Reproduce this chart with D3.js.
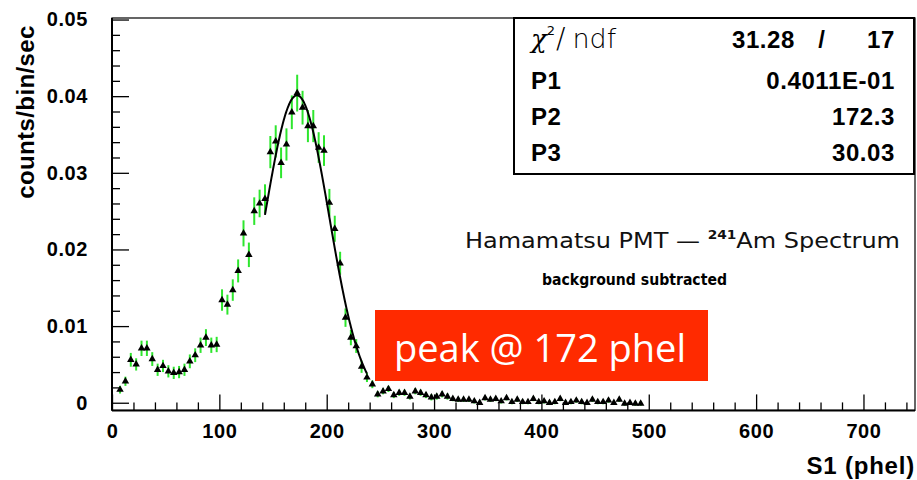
<!DOCTYPE html>
<html><head><meta charset="utf-8">
<script src="https://cdn.jsdelivr.net/npm/d3@7"></script>
<style>body{margin:0;background:#fff;} svg{display:block;}</style>
</head><body><svg id="c" width="917" height="480"></svg>
<script>
// ---- data ----
const s1Bins = [7.5,12.5,17.5,22.5,27.5,32.5,37.5,42.5,47.5,52.5,57.5,62.5,67.5,72.5,77.5,82.5,87.5,92.5,97.5,102.5,
  107.5,112.5,117.5,122.5,127.5,132.5,137.5,142.5,147.5,152.5,157.5,162.5,167.5,172.5,177.5,182.5,187.5,192.5,197.5,202.5,
  207.5,212.5,217.5,222.5,227.5,232.5,237.5,242.5,247.5,252.5,257.5,262.5,267.5,272.5,277.5,282.5,287.5,292.5,297.5,302.5,
  307.5,312.5,317.5,322.5,327.5,332.5,337.5,342.5,347.5,352.5,357.5,362.5,367.5,372.5,377.5,382.5,387.5,392.5,397.5,402.5,
  407.5,412.5,417.5,422.5,427.5,432.5,437.5,442.5,447.5,452.5,457.5,462.5,467.5,472.5,477.5,482.5,487.5,492.5];
const rates = [0.0017,0.0028,0.0056,0.0050,0.0071,0.0071,0.0057,0.0043,0.0048,0.0041,0.0039,0.0040,0.0043,0.0054,0.0062,0.0075,0.0085,0.0075,0.0076,0.0134,
  0.0128,0.0147,0.0172,0.0221,0.0193,0.0250,0.0260,0.0266,0.0327,0.0341,0.0313,0.0337,0.0379,0.0404,0.0385,0.0361,0.0361,0.0333,0.0329,0.0261,
  0.0227,0.0182,0.0111,0.0085,0.0074,0.0047,0.0033,0.0024,0.0011,0.0015,0.0018,0.0010,0.0013,0.0013,0.0008,0.0015,0.0013,0.0010,0.0007,0.0008,
  0.0011,0.0008,0.0005,0.0004,0.0004,0.0004,0.0002,0.0000,0.0006,0.0004,0.0005,0.0002,0.0006,0.0001,0.0004,0.0001,0.0001,0.0005,0.0001,0.0002,
  0.0000,0.0001,0.0005,0.0000,0.0001,0.0003,0.0001,0.0000,0.0004,0.0001,0.0001,0.0003,0.0000,0.0004,-0.0001,0.0000,-0.0001,-0.0001];
const rateErrors = [0.0005,0.0006,0.0009,0.0008,0.0010,0.0010,0.0009,0.0008,0.0008,0.0008,0.0008,0.0008,0.0008,0.0009,0.0009,0.0010,0.0011,0.0010,0.0010,0.0014,
  0.0013,0.0014,0.0015,0.0017,0.0016,0.0018,0.0018,0.0019,0.0021,0.0021,0.0020,0.0021,0.0022,0.0024,0.0022,0.0021,0.0021,0.0020,0.0020,0.0018,
  0.0017,0.0015,0.0012,0.0010,0.0009,0.0008,0.0006,0.0005,0.0004,0.0004,0.0004,0.0004,0.0004,0.0004,0.0004,0.0004,0.0004,0.0004,0.0004,0.0004,
  0.0004,0.0004,0.0003,0.0003,0.0003,0.0003,0.0003,0.0003,0.0003,0.0003,0.0003,0.0003,0.0003,0.0003,0.0003,0.0003,0.0003,0.0003,0.0003,0.0003,
  0.0003,0.0003,0.0003,0.0003,0.0003,0.0003,0.0003,0.0003,0.0003,0.0003,0.0003,0.0003,0.0003,0.0003,0.0003,0.0003,0.0003,0.0003];
const xTicks = [0,100,200,300,400,500,600,700];
const yTicks = [0,0.01,0.02,0.03,0.04,0.05];
const yTickLabels = ["0","0.01","0.02","0.03","0.04","0.05"];
const fitP1 = 0.04011, fitP2 = 172.3, fitP3 = 30.03;
const fitRange = [142.5, 237.5];
const chi2Value = "31.28", ndfValue = "17";
const statNames = ["P1","P2","P3"];
const statValues = ["0.4011E-01","172.3","30.03"];

// ---- layout ----
const svg = d3.select("#c");
const L = 112, R = 915, T = 18, B = 410.4;
const x = d3.scaleLinear().domain([0, 748]).range([L, R]);
const y = d3.scaleLinear().domain([-0.001, 0.0502]).range([B, T]);
const boldFont = "'Liberation Sans', Arial, sans-serif";
const geoFont = "'DejaVu Sans', sans-serif";

// axes ticks
const xMinor = d3.range(0, 748, 20).filter(v => v % 100 !== 0);
const yMinor = d3.range(0, 0.0501, 0.002).filter((v,i) => i % 5 !== 0);
svg.append("g").attr("transform", `translate(0,${B})`)
  .call(d3.axisBottom(x).tickValues(xMinor).tickSize(-8).tickFormat(""))
  .call(g => g.select(".domain").remove());
svg.append("g").attr("transform", `translate(0,${B})`)
  .call(d3.axisBottom(x).tickValues(xTicks).tickSize(-16).tickFormat(d3.format("d")).tickPadding(13))
  .call(g => g.select(".domain").remove())
  .call(g => g.selectAll("text").attr("font-family", boldFont).attr("font-weight","bold").attr("font-size", 20).attr("fill","#000").style("letter-spacing","0.6px"));
svg.append("g").attr("transform", `translate(${L},0)`)
  .call(d3.axisLeft(y).tickValues(yMinor).tickSize(-8).tickFormat(""))
  .call(g => g.select(".domain").remove());
svg.append("g").attr("transform", `translate(${L},0)`)
  .call(d3.axisLeft(y).tickValues(yTicks).tickSize(-17).tickPadding(24).tickFormat((d,i) => yTickLabels[i]))
  .call(g => g.select(".domain").remove())
  .call(g => g.selectAll("text").attr("font-family", boldFont).attr("font-weight","bold").attr("font-size", 20).attr("fill","#000").style("letter-spacing","0.6px"));
svg.selectAll(".tick line").attr("stroke", "#000").attr("stroke-width", 1.3);

// frame
svg.append("rect").attr("x", L).attr("y", T).attr("width", R - L).attr("height", B - T)
  .attr("fill", "none").attr("stroke", "#000").attr("stroke-width", 1.2);
svg.append("line").attr("x1", L).attr("x2", L).attr("y1", T).attr("y2", B).attr("stroke", "#000").attr("stroke-width", 2);
svg.append("line").attr("x1", L).attr("x2", R).attr("y1", B).attr("y2", B).attr("stroke", "#000").attr("stroke-width", 2);

// error bars
const pts = s1Bins.map((s, i) => ({s, v: rates[i], e: rateErrors[i]}));
svg.append("g").selectAll("line").data(pts).join("line")
  .attr("x1", d => x(d.s)).attr("x2", d => x(d.s))
  .attr("y1", d => y(d.v - d.e)).attr("y2", d => y(d.v + d.e))
  .attr("stroke", "#2ee62e").attr("stroke-width", 2);

// markers
svg.append("g").selectAll("path").data(pts).join("path")
  .attr("d", d3.symbol().type(d3.symbolTriangle).size(24))
  .attr("transform", d => `translate(${x(d.s)},${y(d.v)})`)
  .attr("fill", "#000");

// fit curve
const fitXs = d3.range(fitRange[0], fitRange[1] + 0.01, 0.5);
svg.append("path")
  .datum(fitXs)
  .attr("d", d3.line().x(s => x(s)).y(s => y(fitP1 * Math.exp(-0.5 * Math.pow((s - fitP2) / fitP3, 2)))))
  .attr("fill", "none").attr("stroke", "#000").attr("stroke-width", 2);

// axis titles
svg.append("text").attr("x", 915).attr("y", 474).attr("text-anchor", "end")
  .attr("font-family", boldFont).attr("font-weight", "bold").attr("font-size", 24)
  .style("letter-spacing", "0.8px")
  .text("S1 (phel)");
svg.append("text").attr("transform", "translate(34,112) rotate(-90)").attr("text-anchor", "middle")
  .attr("font-family", boldFont).attr("font-weight", "bold").attr("font-size", 24)
  .style("letter-spacing", "0.4px")
  .text("counts/bin/sec");

// stats box
svg.append("rect").attr("x", 514).attr("y", 18).attr("width", 400).attr("height", 156)
  .attr("fill", "#fff").attr("stroke", "#000").attr("stroke-width", 2);
const chiT = svg.append("text").attr("x", 531).attr("y", 48);
chiT.append("tspan").attr("font-family", "'DejaVu Serif', serif").attr("font-style", "italic").attr("font-size", 26).text("χ");
chiT.append("tspan").attr("font-family", geoFont).attr("font-size", 13).attr("dy", -13).attr("dx", 0).text("2");
chiT.append("tspan").attr("font-family", geoFont).attr("font-weight", 200).attr("font-size", 28).attr("dy", 13).attr("dx", 1).text("/");
chiT.append("tspan").attr("font-family", geoFont).attr("font-weight", 200).attr("font-size", 27).attr("dx", 7).text("ndf");
const statStyle = sel => sel.attr("font-family", boldFont).attr("font-weight", "bold").attr("font-size", 24)
  .attr("fill", "#000").style("letter-spacing", "0.6px");
svg.append("text").attr("x", 795).attr("y", 48).attr("text-anchor", "end").call(statStyle).text(chi2Value);
svg.append("text").attr("x", 822).attr("y", 48).attr("text-anchor", "middle").call(statStyle).text("/");
svg.append("text").attr("x", 895).attr("y", 48).attr("text-anchor", "end").call(statStyle).text(ndfValue);
const rowY = [89, 125, 161];
statNames.forEach((n, i) => {
  svg.append("text").attr("x", 531).attr("y", rowY[i]).call(statStyle).text(n);
  svg.append("text").attr("x", 895).attr("y", rowY[i]).attr("text-anchor", "end").call(statStyle).text(statValues[i]);
});

// annotations
const ham = svg.append("text").attr("x", 465).attr("y", 248)
  .attr("font-family", geoFont).attr("font-weight", 400).attr("font-size", 21).attr("fill", "#111")
  .attr("textLength", 435).attr("lengthAdjust", "spacingAndGlyphs");
ham.append("tspan").text("Hamamatsu PMT \u2014 ");
ham.append("tspan").attr("font-size", 12).attr("font-weight", 600).attr("dy", -9).text("241");
ham.append("tspan").attr("dy", 9).text("Am Spectrum");
svg.append("text").attr("x", 542).attr("y", 285)
  .attr("font-family", geoFont).attr("font-weight", 600).attr("font-size", 15).attr("fill", "#000")
  .attr("textLength", 185).attr("lengthAdjust", "spacingAndGlyphs")
  .text("background subtracted");

// red label
svg.append("rect").attr("x", 375).attr("y", 310).attr("width", 333).attr("height", 71).attr("fill", "#ff2a00");
svg.append("text").attr("x", 394).attr("y", 362)
  .attr("font-family", "'Open Sans', sans-serif").attr("font-size", 38).attr("fill", "#fff")
  .text("peak @ 172 phel");
</script></body></html>
